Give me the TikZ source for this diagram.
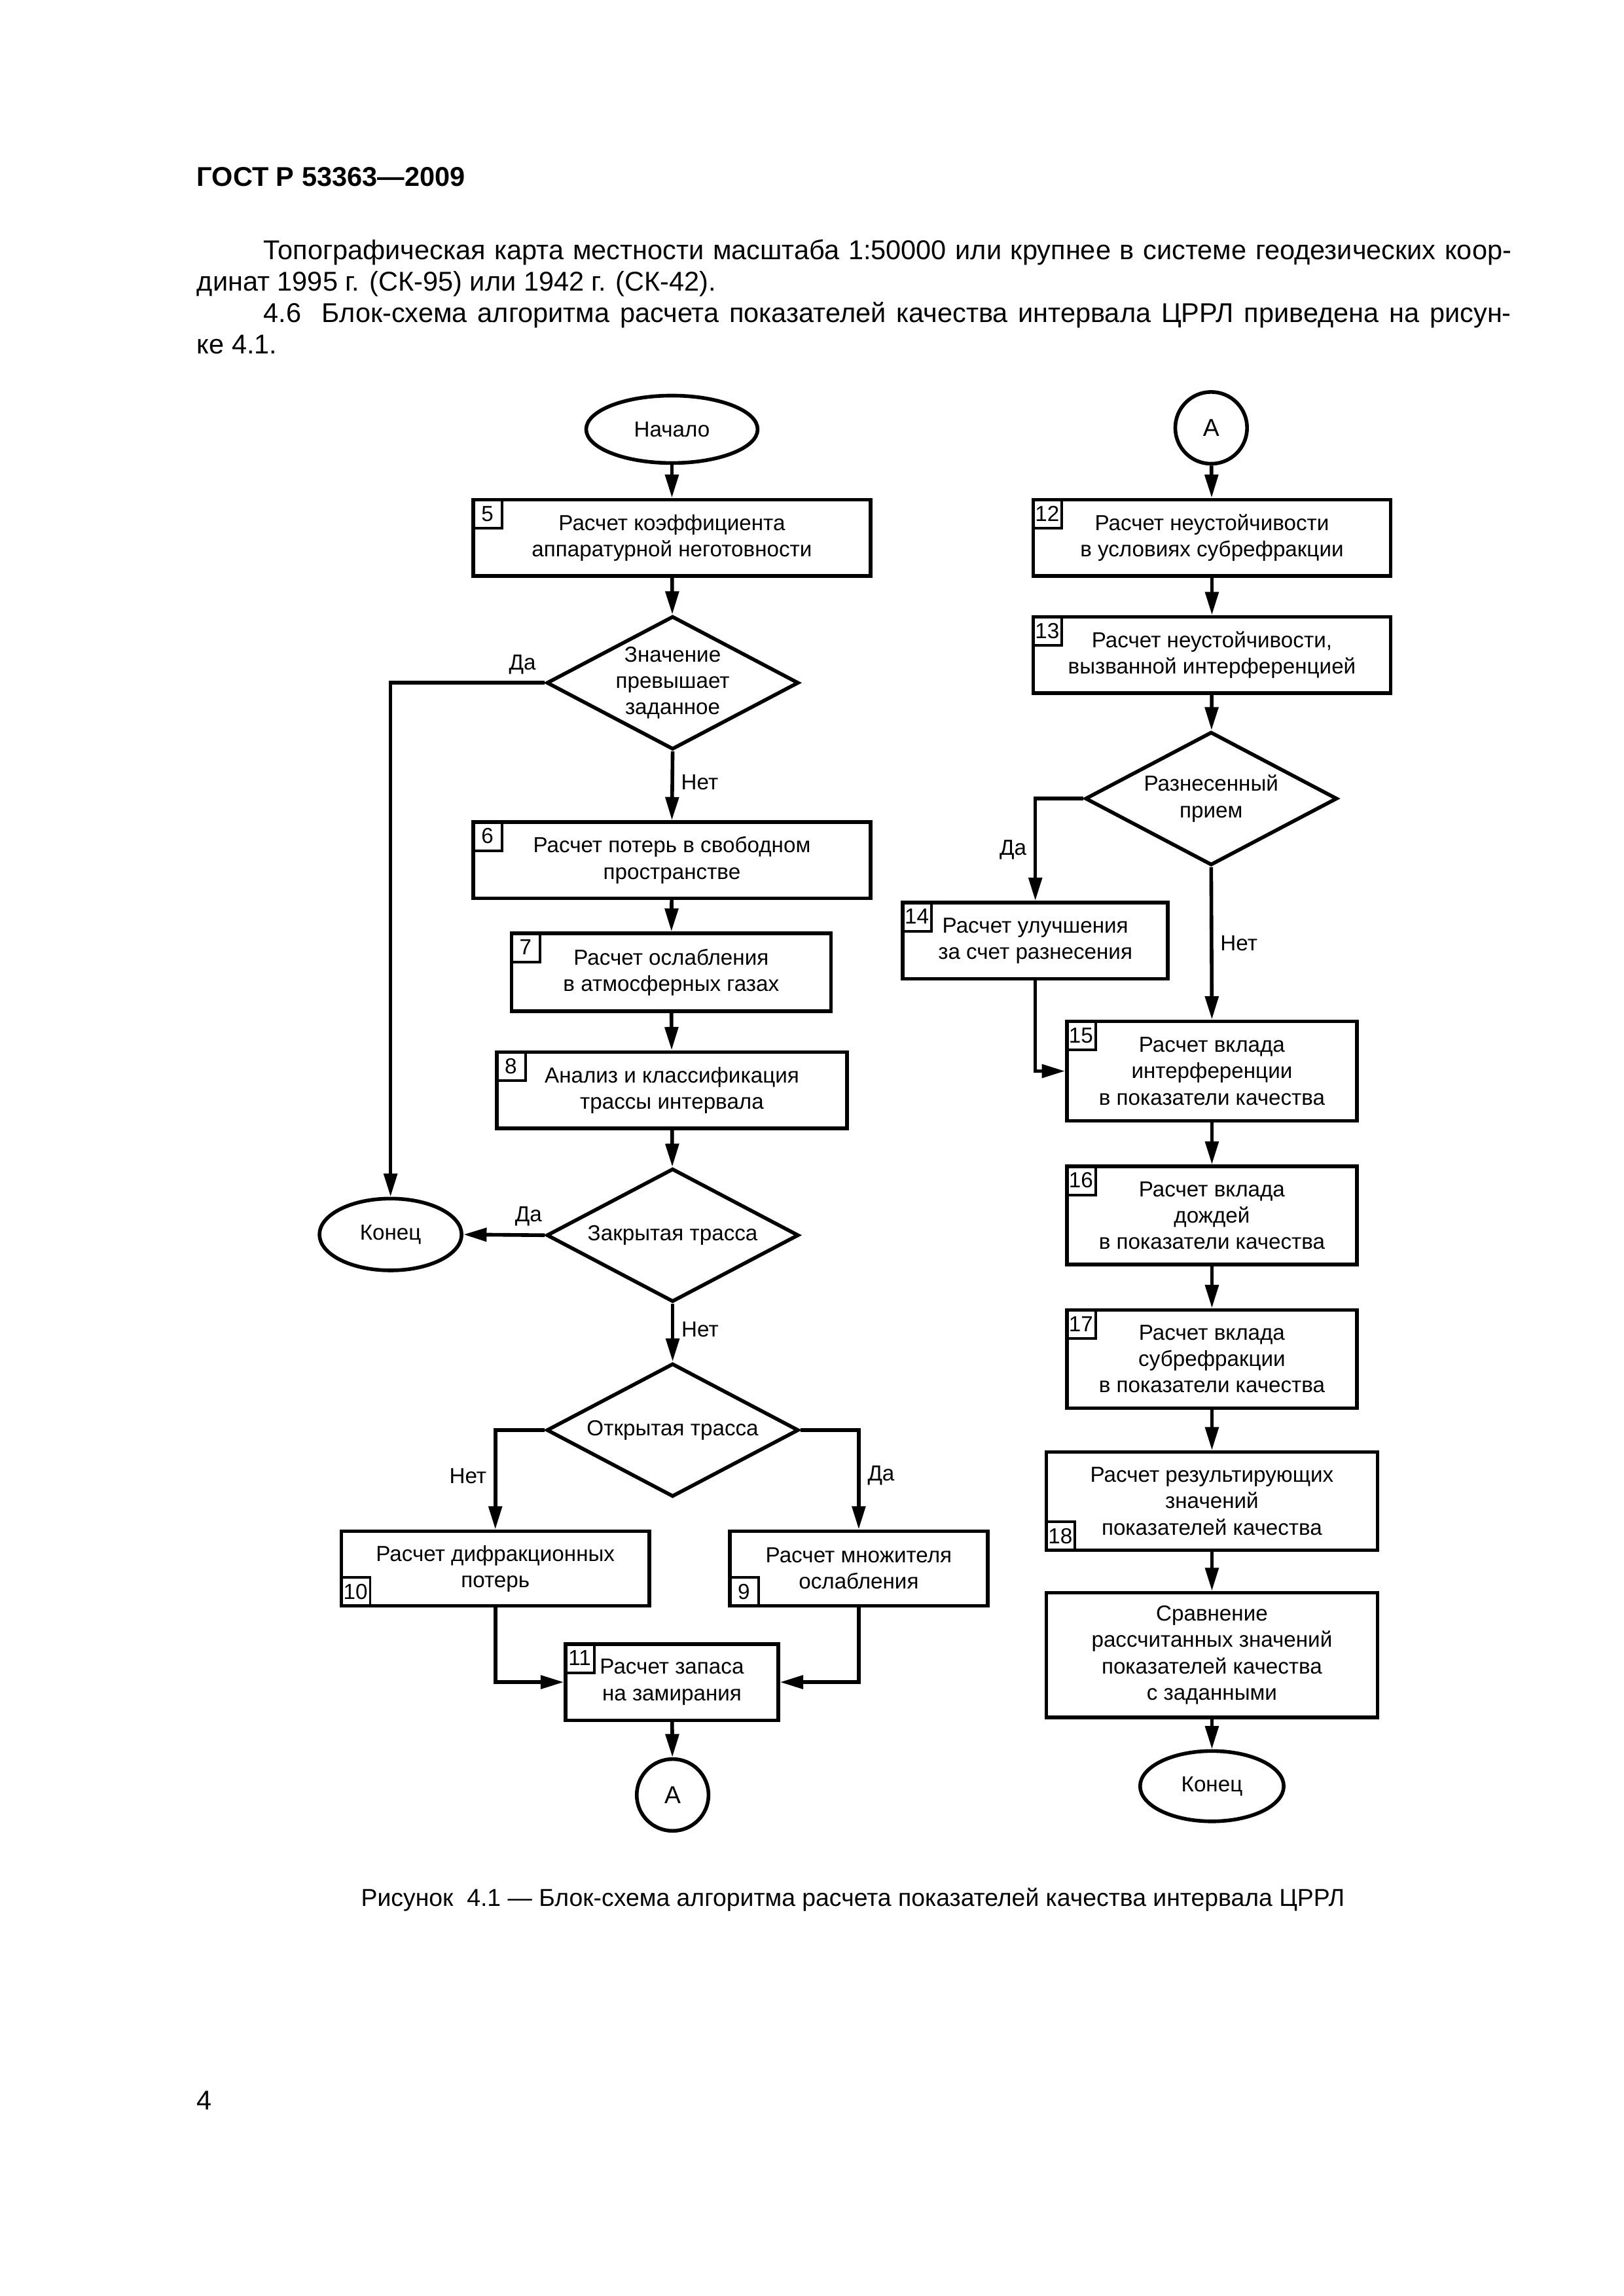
\documentclass[tikz,border=0pt]{standalone}
\usepackage{fontspec}
\setmainfont{Liberation Sans}
\usetikzlibrary{shapes.geometric,arrows.meta}
\newcommand{\dpx}{0.18957mm}
\tikzset{
  every node/.style={font=\fontsize{8}{9.7}\selectfont},
  box/.style 2 args={draw, line width=1.35pt, align=center, inner sep=0pt,
    minimum width=#1*\dpx, minimum height=#2*\dpx},
  tag/.style={draw, line width=0.9pt, inner sep=0pt, minimum size=20*\dpx},
  dec/.style={draw, diamond, line width=1.35pt, align=center, inner sep=0pt,
    aspect=1.9, minimum width=172*\dpx, minimum height=91*\dpx},
  term/.style 2 args={draw, ellipse, line width=1.35pt, inner sep=0pt,
    minimum width=#1*\dpx, minimum height=#2*\dpx},
  conn/.style={draw, circle, line width=1.35pt, inner sep=0pt, minimum size=49*\dpx},
  arr/.style={line width=1.35pt, -{Triangle[length=3mm,width=1.7mm]}},
  lbl/.style={inner sep=2.6pt},
}
\begin{document}
\begin{tikzpicture}[x=\dpx, y=-\dpx]
\useasboundingbox (0,0) rectangle (210mm,-297.05mm);
% page text
\node[anchor=base west, inner sep=0pt, font=\bfseries\fontsize{10}{12}\selectfont] (head) at (134,127) {ГОСТ Р 53363—2009};
\node[anchor=north west, inner sep=0pt, text width=897*\dpx, align=justify,
  font=\fontsize{10}{11.6}\selectfont] (body) at (134,163)
  {\hspace*{8.6mm}Топографическая карта местности масштаба 1:50000 или крупнее в системе геодезических коор-\linebreak динат 1995 г. (СК-95) или 1942 г. (СК-42).\par
   \hspace*{8.6mm}4.6\ \ Блок-схема алгоритма расчета показателей качества интервала ЦРРЛ приведена на рисун-\linebreak ке 4.1.};
\node[anchor=base, inner sep=0pt, font=\fontsize{9}{11}\selectfont] (cap) at (582,1301)
  {Рисунок\ \ 4.1 — Блок-схема алгоритма расчета показателей качества интервала ЦРРЛ};
\node[anchor=base west, inner sep=0pt, font=\fontsize{10}{12}\selectfont] (pnum) at (134,1440) {4};
% left column
\node[term={117}{46}] (start) at (458.5,293) {Начало};
\node[box={271}{52}] (b5) at (458.5,367) {Расчет коэффициента\\аппаратурной неготовности};
\node[tag, anchor=north west] (t5) at (b5.north west) {5};
\node[dec] (d1) at (459,466) {Значение\\превышает\\заданное};
\node[box={271}{52}] (b6) at (458.5,587) {Расчет потерь в свободном\\пространстве};
\node[tag, anchor=north west] (t6) at (b6.north west) {6};
\node[box={218}{53}] (b7) at (458,663.5) {Расчет ослабления\\в атмосферных газах};
\node[tag, anchor=north west] (t7) at (b7.north west) {7};
\node[box={239}{52}] (b8) at (458.5,744) {Анализ и классификация\\трассы интервала};
\node[tag, anchor=north west] (t8) at (b8.north west) {8};
\node[dec] (d2) at (459,843) {Закрытая трасса};
\node[term={97}{49}] (end1) at (266.5,842.5) {Конец};
\node[dec] (d3) at (459,976) {Открытая трасса};
\node[box={210}{51}] (b10) at (338,1070.5) {Расчет дифракционных\\потерь};
\node[tag, anchor=south west] (t10) at (b10.south west) {10};
\node[box={176}{51}] (b9) at (586,1070.5) {Расчет множителя\\ослабления};
\node[tag, anchor=south west] (t9) at (b9.south west) {9};
\node[box={145}{52}] (b11) at (458.5,1148) {Расчет запаса\\на замирания};
\node[tag, anchor=north west] (t11) at (b11.north west) {11};
\node[conn] (a1) at (459,1225) {\fontsize{9}{10}\selectfont А};
% right column
\node[conn] (a2) at (826.5,292) {\fontsize{9}{10}\selectfont А};
\node[box={244}{52}] (b12) at (827,367) {Расчет неустойчивости\\в условиях субрефракции};
\node[tag, anchor=north west] (t12) at (b12.north west) {12};
\node[box={244}{52}] (b13) at (827,447) {Расчет неустойчивости,\\вызванной интерференцией};
\node[tag, anchor=north west] (t13) at (b13.north west) {13};
\node[dec] (d4) at (826.5,545) {Разнесенный\\прием};
\node[box={181}{52}] (b14) at (706.5,642) {Расчет улучшения\\за счет разнесения};
\node[tag, anchor=north west] (t14) at (b14.north west) {14};
\node[box={198}{68}] (b15) at (827,731) {Расчет вклада\\интерференции\\в показатели качества};
\node[tag, anchor=north west] (t15) at (b15.north west) {15};
\node[box={198}{67}] (b16) at (827,829.5) {Расчет вклада\\дождей\\в показатели качества};
\node[tag, anchor=north west] (t16) at (b16.north west) {16};
\node[box={198}{67}] (b17) at (827,927.5) {Расчет вклада\\субрефракции\\в показатели качества};
\node[tag, anchor=north west] (t17) at (b17.north west) {17};
\node[box={226}{67}] (b18) at (827,1024.5) {Расчет результирующих\\значений\\показателей качества};
\node[tag, anchor=south west] (t18) at (b18.south west) {18};
\node[box={226}{85}] (b19) at (827,1129.5) {Сравнение\\рассчитанных значений\\показателей качества\\с заданными};
\node[term={98}{48}] (end2) at (827,1219) {Конец};
% connectors, left
\draw[arr] (start) -- (b5);
\draw[arr] (b5) -- (d1);
\draw[arr] (d1.west) node[lbl, above left] (l1) {Да} -| (end1.north);
\draw[arr] (d1.south) -- node[lbl, right, pos=.45] (l2) {Нет} (b6.north);
\draw[arr] (b6) -- (b7);
\draw[arr] (b7) -- (b8);
\draw[arr] (b8) -- (d2);
\draw[arr] (d2.west) -- node[lbl, above, pos=.2] (l3) {Да} (end1.east);
\draw[arr] (d2.south) -- node[lbl, right, pos=.45] (l4) {Нет} (d3.north);
\draw[arr] (d3.west) -| node[lbl, left, pos=.73] (l5) {Нет} (b10.north);
\draw[arr] (d3.east) -| node[lbl, right, pos=.73] (l6) {Да} (b9.north);
\draw[arr] (b10.south) |- (b11.west);
\draw[arr] (b9.south) |- (b11.east);
\draw[arr] (b11) -- (a1);
% connectors, right
\draw[arr] (a2) -- (b12);
\draw[arr] (b12) -- (b13);
\draw[arr] (b13) -- (d4);
\draw[arr] (d4.west) -| node[lbl, left, pos=.75] (l7) {Да} (b14.north);
\draw[arr] (d4.south) -- node[lbl, right, pos=.5] (l8) {Нет} (b15.north);
\draw[arr] (b14.south) |- (b15.west);
\draw[arr] (b15) -- (b16);
\draw[arr] (b16) -- (b17);
\draw[arr] (b17) -- (b18);
\draw[arr] (b18) -- (b19);
\draw[arr] (b19) -- (end2);
\end{tikzpicture}
\end{document}
